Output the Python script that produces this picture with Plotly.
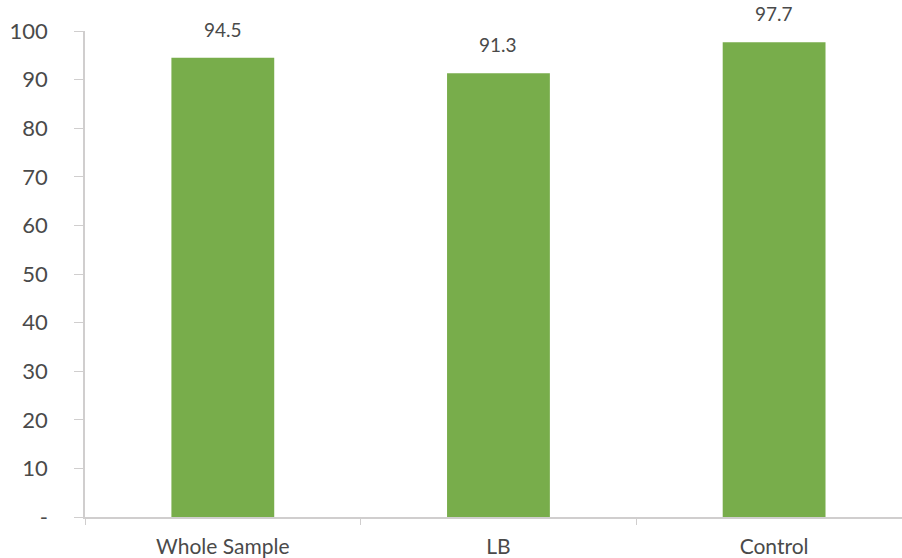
import plotly.graph_objects as go

categories = ["Whole Sample", "LB", "Control"]
values = [94.5, 91.3, 97.7]
ytick_vals = [0, 10, 20, 30, 40, 50, 60, 70, 80, 90, 100]
ytick_text = ["-", "10", "20", "30", "40", "50", "60", "70", "80", "90", "100"]

BAR = "#78AD4B"
TXT = "#4A4A4A"
AX = "#D0CECE"
FONT = "Lato"

fig = go.Figure()
fig.add_trace(go.Bar(
    x=categories, y=values, marker=dict(color=BAR, line=dict(width=0)),
    width=0.373, hoverinfo="skip",
))
for c, v in zip(categories, values):
    fig.add_annotation(x=c, y=v, text=f"{v:.1f}", showarrow=False,
                       yanchor="bottom", yshift=15,
                       font=dict(family=FONT, size=19, color=TXT))

fig.update_layout(
    width=902, height=558,
    margin=dict(l=85, r=0, t=31, b=41, autoexpand=False),
    paper_bgcolor="white", plot_bgcolor="white",
    showlegend=False,
    font=dict(family=FONT, color=TXT),
)
fig.update_xaxes(
    type="category", range=[-0.5, 2.464],
    showline=True, linecolor=AX, linewidth=1.5,
    ticks="outside", tickson="boundaries", ticklen=6, tickcolor=AX,
    ticklabelstandoff=10,
    tickfont=dict(family=FONT, size=21, color=TXT),
    showgrid=False, zeroline=False,
)
fig.update_yaxes(
    range=[0, 100], tickvals=ytick_vals, ticktext=ytick_text,
    showline=True, linecolor=AX, linewidth=1.5,
    ticks="outside", ticklen=9, tickcolor=AX,
    ticklabelstandoff=22,
    tickfont=dict(family=FONT, size=22, color=TXT),
    showgrid=False, zeroline=False,
)

fig.write_html("out.html")
